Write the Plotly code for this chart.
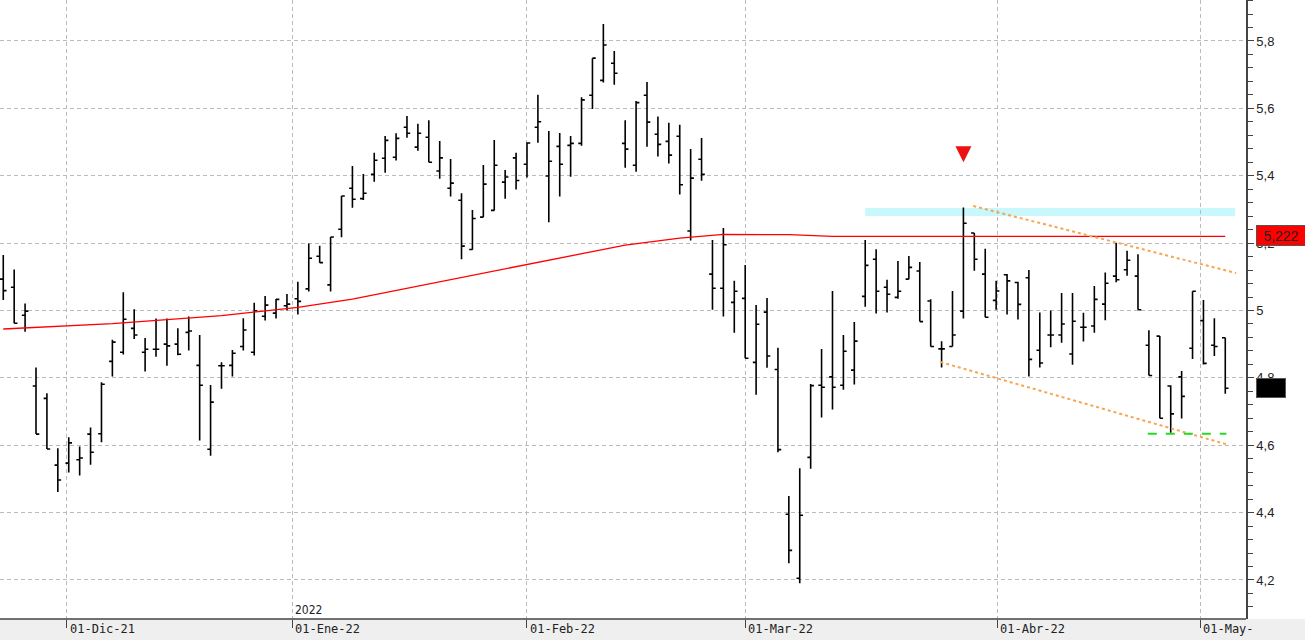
import plotly.graph_objects as go

# daily bars, Nov-21 .. May-22 (one entry per trading session)
opens = [5.093, 5.069, 4.986, 4.776, 4.739, 4.541, 4.547, 4.557, 4.633, 4.634,
         4.849, 4.876, 4.947, 4.876, 4.885, 4.900, 4.900, 4.935, 4.837, 4.588,
         4.836, 4.837, 4.893, 4.876, 4.983, 4.992, 5.014, 5.035, 5.064, 5.161,
         5.076, 5.241, 5.363, 5.332, 5.404, 5.452, 5.455, 5.544, 5.485, 5.514,
         5.414, 5.363, 5.327, 5.181, 5.277, 5.297, 5.381, 5.453, 5.434, 5.544,
         5.399, 5.487, 5.490, 5.496, 5.639, 5.683, 5.734, 5.496, 5.431, 5.639,
         5.523, 5.502, 5.517, 5.236, 5.449, 5.108, 5.066, 5.024, 5.036, 4.846,
         4.995, 4.825, 4.395, 4.205, 4.564, 4.778, 4.803, 4.778, 4.823, 5.042,
         5.152, 5.069, 5.039, 5.093, 5.117, 5.028, 4.886, 4.893, 4.998, 5.230,
         5.108, 5.030, 5.106, 5.083, 5.097, 4.882, 4.927, 4.927, 4.871, 4.950,
         4.954, 5.019, 5.102, 5.121, 5.102, 4.897, 4.924, 4.776, 4.803, 4.888,
         4.970, 4.897, 4.919]
highs = [5.165, 5.122, 5.021, 4.831, 4.754, 4.591, 4.624, 4.596, 4.653, 4.787,
         4.913, 5.054, 5.004, 4.918, 4.976, 4.976, 4.947, 4.982, 4.927, 4.779,
         4.846, 4.883, 4.977, 5.023, 5.043, 5.034, 5.049, 5.085, 5.199, 5.192,
         5.218, 5.340, 5.429, 5.405, 5.468, 5.518, 5.526, 5.577, 5.554, 5.565,
         5.503, 5.450, 5.348, 5.298, 5.432, 5.506, 5.417, 5.468, 5.499, 5.640,
         5.533, 5.527, 5.518, 5.633, 5.749, 5.850, 5.770, 5.565, 5.622, 5.678,
         5.576, 5.557, 5.551, 5.479, 5.512, 5.209, 5.245, 5.088, 5.135, 5.016,
         5.037, 4.889, 4.449, 4.532, 4.782, 4.886, 5.058, 4.927, 4.966, 5.209,
         5.182, 5.091, 5.147, 5.162, 5.144, 5.033, 4.909, 5.058, 5.306, 5.230,
         5.183, 5.088, 5.108, 5.085, 5.120, 4.994, 5.000, 5.052, 5.052, 4.993,
         5.073, 5.113, 5.201, 5.177, 5.167, 4.941, 4.924, 4.778, 4.820, 5.057,
         5.031, 4.977, 4.919]
lows = [5.031, 4.962, 4.937, 4.633, 4.589, 4.461, 4.519, 4.510, 4.542, 4.609,
        4.804, 4.869, 4.915, 4.819, 4.863, 4.836, 4.867, 4.881, 4.614, 4.569,
        4.768, 4.804, 4.881, 4.866, 4.970, 4.976, 5.000, 4.988, 5.056, 5.142,
        5.056, 5.217, 5.305, 5.328, 5.382, 5.409, 5.445, 5.513, 5.474, 5.440,
        5.391, 5.338, 5.152, 5.180, 5.277, 5.297, 5.332, 5.359, 5.395, 5.498,
        5.262, 5.338, 5.397, 5.489, 5.598, 5.677, 5.670, 5.424, 5.412, 5.486,
        5.457, 5.436, 5.344, 5.208, 5.385, 5.002, 4.982, 4.934, 4.858, 4.750,
        4.830, 4.579, 4.250, 4.190, 4.530, 4.682, 4.706, 4.765, 4.780, 5.011,
        4.991, 4.994, 5.035, 5.093, 4.967, 4.893, 4.831, 4.893, 4.976, 5.118,
        4.980, 5.002, 4.988, 4.973, 4.804, 4.831, 4.891, 4.904, 4.839, 4.908,
        4.934, 4.971, 5.084, 5.103, 5.002, 4.807, 4.680, 4.637, 4.679, 4.856,
        4.840, 4.865, 4.753]
closes = [5.059, 4.962, 4.998, 4.633, 4.589, 4.497, 4.607, 4.562, 4.579, 4.781,
          4.906, 4.974, 4.927, 4.885, 4.885, 4.895, 4.870, 4.939, 4.778, 4.728,
          4.836, 4.873, 4.942, 4.999, 5.016, 5.033, 5.019, 5.027, 5.155, 5.142,
          5.218, 5.340, 5.330, 5.348, 5.446, 5.505, 5.511, 5.526, 5.526, 5.440,
          5.453, 5.378, 5.191, 5.273, 5.375, 5.431, 5.396, 5.386, 5.497, 5.560,
          5.443, 5.434, 5.496, 5.625, 5.749, 5.788, 5.704, 5.479, 5.617, 5.559,
          5.493, 5.461, 5.373, 5.393, 5.404, 5.066, 5.195, 5.057, 4.858, 4.959,
          4.865, 4.587, 4.288, 4.392, 4.777, 4.772, 4.772, 4.879, 4.909, 5.134,
          5.057, 5.048, 5.057, 5.128, 4.967, 4.893, 4.886, 4.927, 5.259, 5.152,
          4.980, 5.058, 5.088, 5.018, 4.855, 4.844, 4.927, 4.960, 4.968, 4.950,
          5.033, 5.081, 5.091, 5.149, 5.002, 4.807, 4.680, 4.693, 4.745, 5.057,
          4.843, 4.893, 4.769]
sessions = list(range(len(closes)))

# 200-session moving average, read at a few sessions
ma_sessions = [0, 10, 20, 27, 32, 40, 50, 57, 62, 66, 72, 76, 90, 112]
ma_values = [4.945, 4.961, 4.985, 5.009, 5.034, 5.085, 5.151, 5.194, 5.215,
             5.226, 5.225, 5.220, 5.220, 5.220]
ma_last = 5.222
last_close = closes[-1]

month_pos = [5.84, 26.5, 48.0, 68.0, 91.1, 109.7]
month_labels = ["01-Dic-21", "01-Ene-22", "01-Feb-22", "01-Mar-22", "01-Abr-22", "01-May-"]

price_ticks = [4.2, 4.4, 4.6, 4.8, 5.0, 5.2, 5.4, 5.6, 5.8]
price_labels = ["4,2", "4,4", "4,6", "4,8", "5", "5,2", "5,4", "5,6", "5,8"]

# drawings on the chart
resist_x, resist_y = [79, 112.9], 5.292
upper_x, upper_y = [88.9, 113.0], [5.310, 5.111]
lower_x, lower_y = [85.9, 112.3], [4.847, 4.601]
support_x, support_y = [104.9, 112.1], 4.634
arrow_x, arrow_y = 88, 5.44

fig = go.Figure()

fig.add_trace(go.Ohlc(
    x=sessions, open=opens, high=highs, low=lows, close=closes,
    increasing=dict(line=dict(color="black", width=1.6)),
    decreasing=dict(line=dict(color="black", width=1.6)),
    tickwidth=0.3, hoverinfo="skip", showlegend=False,
))

fig.add_trace(go.Scatter(
    x=ma_sessions, y=ma_values, mode="lines",
    line=dict(color="#ff0000", width=1.3), showlegend=False, hoverinfo="skip",
))

fig.add_trace(go.Scatter(
    x=[arrow_x], y=[arrow_y], mode="markers",
    marker=dict(symbol="arrow-down", size=16, color="#ee1111"),
    showlegend=False, hoverinfo="skip",
))

shapes = [
    # grey strip under the plot
    dict(type="rect", xref="paper", yref="paper", x0=-0.01, x1=1.06, y0=-0.04, y1=0,
         fillcolor="#efefef", line=dict(width=0), layer="below"),
    dict(type="line", xref="paper", yref="paper", x0=0, x1=1, y0=0, y1=0,
         line=dict(color="#444444", width=1.5)),
    dict(type="line", x0=resist_x[0], x1=resist_x[1], y0=resist_y, y1=resist_y,
         line=dict(color="rgba(170,245,250,0.65)", width=8), layer="below"),
    dict(type="line", x0=upper_x[0], x1=upper_x[1], y0=upper_y[0], y1=upper_y[1],
         line=dict(color="#f7a550", width=2, dash="dot")),
    dict(type="line", x0=lower_x[0], x1=lower_x[1], y0=lower_y[0], y1=lower_y[1],
         line=dict(color="#f7a550", width=2, dash="dot")),
    dict(type="line", x0=support_x[0], x1=support_x[1], y0=support_y, y1=support_y,
         line=dict(color="#22dd22", width=2, dash="dash")),
]

annotations = []
for pos, lab in zip(month_pos, month_labels):
    annotations.append(dict(x=pos, y=0, xref="x", yref="paper", text=lab, showarrow=False,
                            xanchor="left", yanchor="top", xshift=1, yshift=-1,
                            font=dict(family="DejaVu Sans Mono", size=12, color="#222")))
annotations.append(dict(x=month_pos[1], y=0, xref="x", yref="paper", text="2022",
                        showarrow=False, xanchor="left", yanchor="bottom", xshift=1,
                        font=dict(family="DejaVu Sans Condensed", size=12, color="#222")))
annotations.append(dict(x=1.0, y=ma_last, xref="paper", yref="y", text="5,222",
                        showarrow=False, xanchor="left", xshift=10, bgcolor="#ff0000",
                        bordercolor="#555", borderwidth=1, width=46, height=17,
                        font=dict(family="Arial", size=14, color="#222")))
annotations.append(dict(x=1.0, y=last_close, xref="paper", yref="y", text="",
                        showarrow=False, xanchor="left", xshift=10, bgcolor="#000000",
                        bordercolor="#555", borderwidth=1, width=26, height=16))

fig.update_layout(
    width=1305, height=640,
    margin=dict(l=0, r=59, t=0, b=21),
    paper_bgcolor="white", plot_bgcolor="white",
    shapes=shapes, annotations=annotations,
    xaxis=dict(
        range=[-0.3, 113.9], rangeslider=dict(visible=False),
        tickvals=month_pos, ticktext=[""] * len(month_pos),
        ticks="outside", ticklen=8, tickcolor="#444",
        showgrid=True, gridcolor="#bbbbbb", griddash="4px,3px", gridwidth=1,
        zeroline=False, showline=False,
    ),
    yaxis=dict(
        side="right", range=[4.0842, 5.9216],
        tickvals=price_ticks, ticktext=price_labels,
        ticks="outside", ticklen=6, tickcolor="#444",
        minor=dict(dtick=0.04, ticks="outside", ticklen=5, tickcolor="#444", showgrid=False),
        showgrid=True, gridcolor="#bbbbbb", griddash="4px,3px", gridwidth=1,
        showline=True, linecolor="#444", linewidth=1.5,
        zeroline=False, tickfont=dict(family="Arial", size=13, color="#222"),
    ),
)

# drop the page's default body margin so the figure sits at the window corner
fig.write_html("out.html", config={"displayModeBar": False},
               post_script="document.body.style.margin='0';")
